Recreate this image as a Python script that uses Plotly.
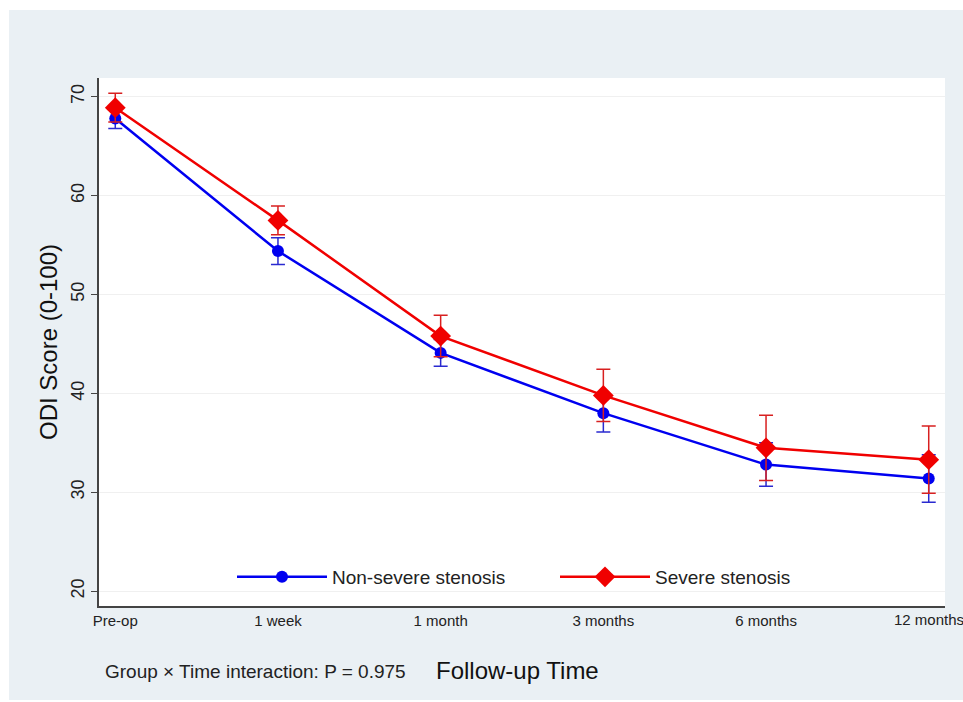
import plotly.graph_objects as go

time_labels = ["Pre-op", "1 week", "1 month", "3 months", "6 months", "12 months"]
x_pos = [0, 1, 2, 3, 4, 5]

nonsevere_mean = [67.8, 54.4, 44.1, 38.0, 32.8, 31.4]
nonsevere_err = [1.0, 1.35, 1.35, 1.9, 2.2, 2.4]
severe_mean = [68.9, 57.5, 45.8, 39.8, 34.5, 33.3]
severe_err = [1.45, 1.45, 2.1, 2.65, 3.3, 3.4]

y_ticks = [20, 30, 40, 50, 60, 70]

W, H = 963, 702
L, R, T, B = 99, 945, 78, 606
pw, ph = R - L, B - T
tick_font = dict(size=15, color="#222222")

fig = go.Figure()

fig.add_trace(go.Scatter(
    x=x_pos, y=nonsevere_mean, mode="lines+markers", name="Non-severe stenosis",
    line=dict(color="#0000F0", width=2.5),
    marker=dict(symbol="circle", size=12, color="#0000F0"),
    error_y=dict(type="data", array=nonsevere_err, visible=True,
                 color="#2a2ad0", thickness=1.5, width=7),
))
fig.add_trace(go.Scatter(
    x=x_pos, y=severe_mean, mode="lines+markers", name="Severe stenosis",
    line=dict(color="#F00000", width=2.5),
    marker=dict(symbol="diamond", size=16, color="#F00000"),
    error_y=dict(type="data", array=severe_err, visible=True,
                 color="#d82020", thickness=1.5, width=7),
))

# light outer panel
fig.add_shape(type="rect", xref="paper", yref="paper", layer="below",
              x0=(9 - L) / pw, x1=(W - L) / pw, y0=-(700 - B) / ph, y1=(B - 10) / ph,
              fillcolor="#EAF0F4", line=dict(width=0))
# white plotting area
fig.add_shape(type="rect", xref="paper", yref="paper", layer="below",
              x0=0, x1=1, y0=0, y1=1,
              fillcolor="white", line=dict(width=0))

fig.update_layout(
    width=W, height=H,
    margin=dict(l=L, r=W - R, t=T, b=H - B),
    paper_bgcolor="white",
    plot_bgcolor="white",
    font=dict(family="Liberation Sans, Arial, sans-serif", color="#222222"),
    showlegend=True,
    legend=dict(orientation="h", x=(232 - L) / pw, xanchor="left", y=(B - 577) / ph, yanchor="middle",
                bgcolor="rgba(0,0,0,0)", font=dict(size=19, color="#222222"),
                itemwidth=90, entrywidth=218, entrywidthmode="pixels"),
    xaxis=dict(range=[-0.1, 5.1], tickmode="array", tickvals=x_pos[:-1], ticktext=time_labels[:-1],
               showgrid=False, zeroline=False, showline=True, linecolor="#444444", linewidth=1.5,
               ticks="", tickfont=tick_font),
    yaxis=dict(range=[18.5, 71.9], tickmode="array", tickvals=y_ticks,
               showgrid=True, gridcolor="#F0F0F0", gridwidth=1, zeroline=False,
               showline=True, linecolor="#444444", linewidth=1.5,
               ticks="outside", ticklen=6, tickcolor="#444444", tickangle=-90,
               tickfont=dict(size=18, color="#222222"),
               title=dict(text="ODI Score (0-100)", font=dict(size=24, color="#111111"), standoff=4)),
)

# last category label (drawn as annotation so it is not hidden at the page edge)
fig.add_annotation(text=time_labels[-1], xref="x", yref="paper",
                   x=x_pos[-1], y=-(619.5 - B) / ph, xanchor="center", yanchor="middle",
                   showarrow=False, font=tick_font)

fig.add_annotation(text="Follow-up Time", xref="paper", yref="paper",
                   x=(517 - L) / pw, y=-(670 - B) / ph, xanchor="center", yanchor="middle",
                   showarrow=False, font=dict(size=24, color="#111111"))
fig.add_annotation(text="Group × Time interaction: P = 0.975", xref="paper", yref="paper",
                   x=(103 - L) / pw, y=-(671 - B) / ph, xanchor="left", yanchor="middle",
                   showarrow=False, font=dict(size=19, color="#222222"))

fig.write_html("out.html", config={"displayModeBar": False},
               post_script="document.body.style.margin='0';")
